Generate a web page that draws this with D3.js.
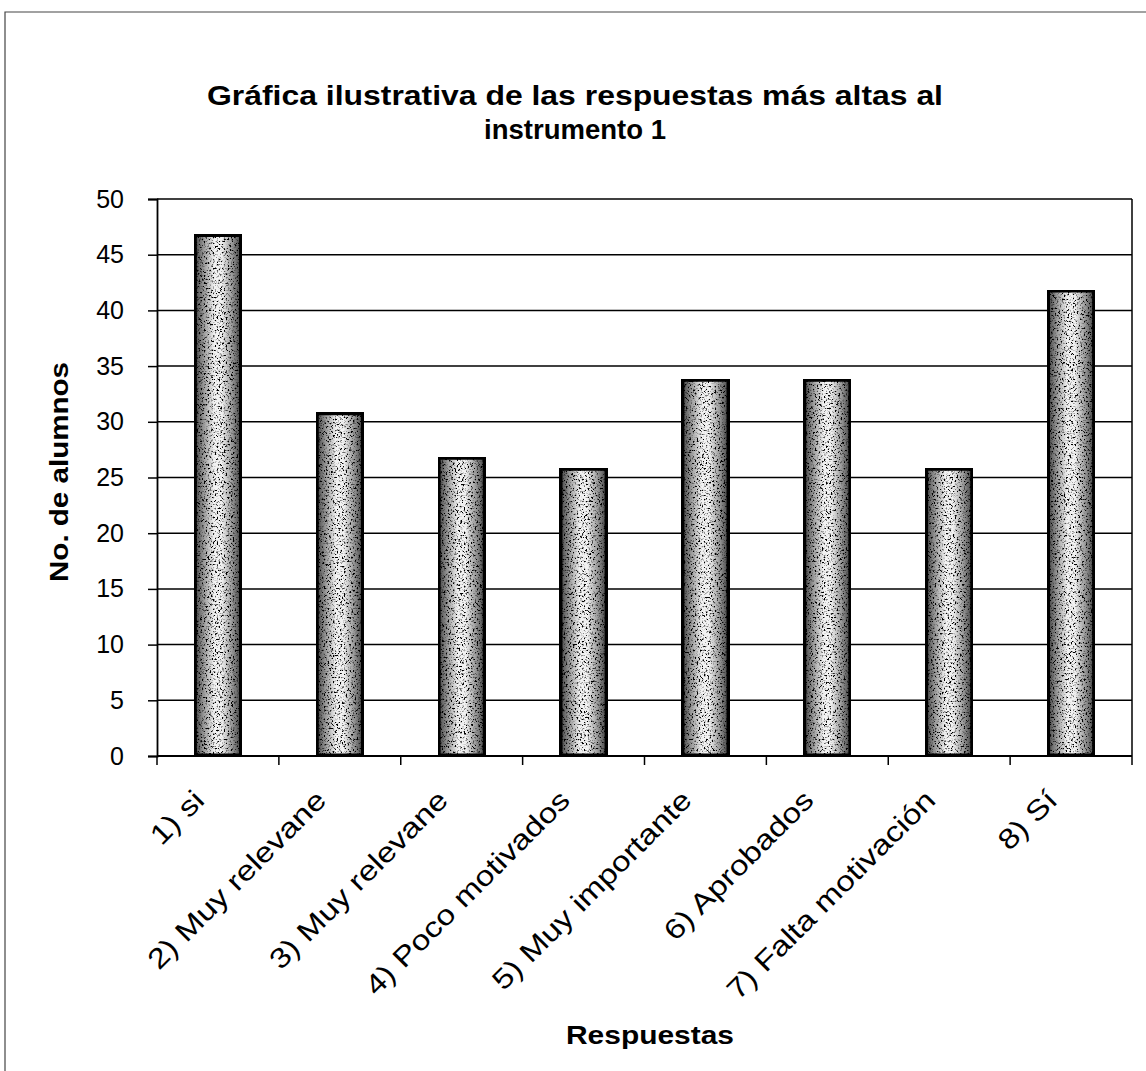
<!DOCTYPE html>
<html>
<head>
<meta charset="utf-8">
<script src="https://cdn.jsdelivr.net/npm/d3@7"></script>
<style>
  body { margin: 0; background: #fff; }
  svg { display: block; font-family: "Liberation Sans", Arial, sans-serif; }
  .tick text { font-size: 25px; fill: #000; }
  .title { font-size: 27px; font-weight: bold; }
  .axis-title { font-size: 26px; font-weight: bold; }
</style>
</head>
<body>
<svg id="chart" width="1146" height="1071"></svg>
<script>
// data
const categories = ["1) si", "2) Muy relevane", "3) Muy relevane", "4) Poco motivados",
                    "5) Muy importante", "6) Aprobados", "7) Falta motivación", "8) Sí"];
const values = [47, 31, 27, 26, 34, 34, 26, 42];
const yTicks = [0, 5, 10, 15, 20, 25, 30, 35, 40, 45, 50];

const margin = { top: 199, right: 14, bottom: 315, left: 157 };
const W = 1146, H = 1071;
const width = W - margin.left - margin.right;
const height = H - margin.top - margin.bottom;

const svg = d3.select("#chart");

// speckled fill for the bars: dark grainy edges, pale middle
const defs = svg.append("defs");
const grad = defs.append("linearGradient").attr("id", "barGrad");
grad.append("stop").attr("offset", "0%").attr("stop-color", "#3c3c3c");
grad.append("stop").attr("offset", "20%").attr("stop-color", "#999");
grad.append("stop").attr("offset", "42%").attr("stop-color", "#f2f2f2");
grad.append("stop").attr("offset", "58%").attr("stop-color", "#f2f2f2");
grad.append("stop").attr("offset", "80%").attr("stop-color", "#999");
grad.append("stop").attr("offset", "100%").attr("stop-color", "#3c3c3c");

const f = defs.append("filter").attr("id", "speckle")
    .attr("x", 0).attr("y", 0).attr("width", 1).attr("height", 1);
f.append("feTurbulence").attr("type", "fractalNoise").attr("baseFrequency", 0.55)
    .attr("numOctaves", 2).attr("seed", 7).attr("result", "noise");
f.append("feColorMatrix").attr("in", "noise").attr("type", "matrix")
    .attr("values", "0 0 0 0 0  0 0 0 0 0  0 0 0 0 0  6 0 0 0 -3.1").attr("result", "dots");
f.append("feComposite").attr("in", "dots").attr("in2", "SourceGraphic")
    .attr("operator", "in").attr("result", "dotsIn");
const merge = f.append("feMerge");
merge.append("feMergeNode").attr("in", "SourceGraphic");
merge.append("feMergeNode").attr("in", "dotsIn");

// scanned page frame (top + left only)
svg.append("path")
    .attr("d", "M5,1071 V12 H1146")
    .attr("fill", "none").attr("stroke", "#444").attr("stroke-width", 1.2);

const g = svg.append("g").attr("transform", `translate(${margin.left},${margin.top})`);

const x = d3.scaleBand().domain(categories).range([0, width]).paddingInner(0.58).paddingOuter(0.29);
const y = d3.scaleLinear().domain([0, 50]).range([height, 0]);

// gridlines
g.append("g")
    .selectAll("line")
    .data(yTicks)
    .join("line")
    .attr("x1", 0).attr("x2", width)
    .attr("y1", d => y(d)).attr("y2", d => y(d))
    .attr("stroke", "#000").attr("stroke-width", 1.5);

// right border of plot area
g.append("line")
    .attr("x1", width).attr("x2", width).attr("y1", 0).attr("y2", height)
    .attr("stroke", "#000").attr("stroke-width", 1.5);

// bars
g.selectAll(".bar")
    .data(values)
    .join("rect")
    .attr("class", "bar")
    .attr("x", (d, i) => x(categories[i]) + 2)
    .attr("y", d => y(d) + 2)
    .attr("width", x.bandwidth() - 4)
    .attr("height", d => height - y(d) - 2)
    .attr("fill", "url(#barGrad)")
    .attr("filter", "url(#speckle)")
    .attr("stroke", "#000")
    .attr("stroke-width", 5)
    .attr("rx", 1);

// y axis
const yAxis = g.append("g")
    .call(d3.axisLeft(y).tickValues(yTicks).tickSize(9).tickPadding(24));
yAxis.select(".domain").attr("stroke-width", 1.8);
yAxis.selectAll(".tick line").attr("stroke-width", 1.5);

// x axis with ticks between categories
const edge = d3.scaleLinear().domain([0, categories.length]).range([0, width]);
const xAxisG = g.append("g").attr("transform", `translate(0,${height})`);
xAxisG.append("line").attr("x1", 0).attr("x2", width)
    .attr("stroke", "#000").attr("stroke-width", 2);
xAxisG.selectAll(".xt")
    .data(d3.range(categories.length + 1))
    .join("line")
    .attr("x1", d => edge(d)).attr("x2", d => edge(d))
    .attr("y1", 0).attr("y2", 9)
    .attr("stroke", "#000").attr("stroke-width", 1.5);

// rotated category labels, widened a bit like the scanned original
xAxisG.selectAll(".xl")
    .data(categories)
    .join("text")
    .attr("class", "xl")
    .attr("text-anchor", "end")
    .attr("font-size", 28)
    .attr("transform", d => `translate(${x(d) + x.bandwidth() / 2 - 12},${46}) rotate(-45)`)
    .text(d => d)
    .each(function () {
        const len = this.getComputedTextLength();
        d3.select(this).attr("textLength", len * 1.19).attr("lengthAdjust", "spacingAndGlyphs");
    });

// titles
svg.append("text").attr("class", "title").attr("text-anchor", "middle")
    .attr("x", 575).attr("y", 105)
    .attr("textLength", 736).attr("lengthAdjust", "spacingAndGlyphs")
    .text("Gráfica ilustrativa de las respuestas más altas al");
svg.append("text").attr("class", "title").attr("text-anchor", "middle")
    .attr("x", 575).attr("y", 139)
    .attr("textLength", 182).attr("lengthAdjust", "spacingAndGlyphs")
    .text("instrumento 1");

svg.append("text").attr("class", "axis-title").attr("text-anchor", "middle")
    .attr("x", 650).attr("y", 1044)
    .attr("textLength", 168).attr("lengthAdjust", "spacingAndGlyphs")
    .text("Respuestas");

svg.append("text").attr("class", "axis-title").attr("text-anchor", "middle")
    .attr("transform", "translate(68,472) rotate(-90)")
    .attr("textLength", 220).attr("lengthAdjust", "spacingAndGlyphs")
    .text("No. de alumnos");
</script>
</body>
</html>
